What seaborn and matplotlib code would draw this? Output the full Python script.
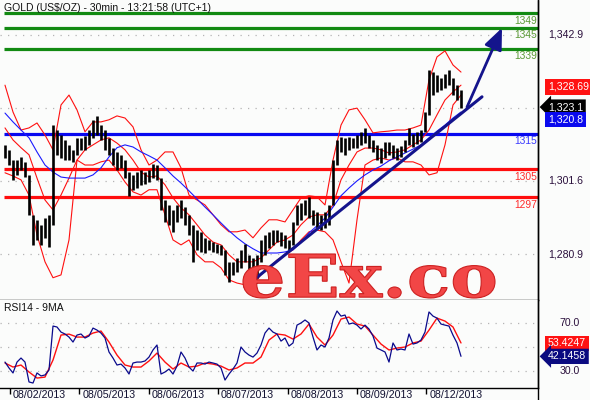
import numpy as np
import matplotlib.pyplot as plt
from matplotlib.lines import Line2D
from matplotlib.textpath import TextPath
from matplotlib.patches import PathPatch
from matplotlib.font_manager import FontProperties
from matplotlib.transforms import Affine2D
import seaborn as sns


# =========================
# DATA
# =========================

bar_high = [
    1311.8, 1310.4, 1307.5, 1307.5, 1308.4, 1307.0, 1303.3, 1292.0, 1290.6, 1289.2,
    1291.1, 1292.0, 1317.4, 1316.0, 1314.6, 1313.2, 1311.8, 1310.4, 1313.8, 1313.8,
    1314.3, 1316.0, 1318.9, 1320.0, 1317.4, 1316.0, 1313.8, 1311.0, 1309.8, 1309.0,
    1307.5, 1304.1, 1303.3, 1304.1, 1304.7, 1304.1, 1304.7, 1306.4, 1306.1, 1302.4,
    1296.2, 1294.8, 1293.4, 1294.8, 1296.2, 1294.2, 1292.0, 1289.2, 1287.7, 1287.2,
    1285.5, 1284.9, 1284.3, 1283.8, 1283.5, 1282.1, 1278.7, 1278.7, 1279.8, 1282.1,
    1283.8, 1280.7, 1279.8, 1280.7, 1284.9, 1286.3, 1287.2, 1287.7, 1287.7, 1287.2,
    1286.3, 1284.9, 1290.0, 1294.8, 1295.4, 1296.2, 1297.1, 1293.4, 1292.8, 1292.0,
    1292.8, 1294.8, 1307.5, 1313.2, 1314.0, 1313.8, 1314.0, 1313.8, 1314.6, 1315.5,
    1316.6, 1314.6, 1313.2, 1311.8, 1311.0, 1312.6, 1312.6, 1311.8, 1311.0, 1311.4,
    1313.2, 1316.6, 1314.8, 1315.5, 1316.0, 1321.1, 1333.0, 1332.4, 1331.6, 1330.7,
    1331.9, 1333.0, 1330.7, 1328.7, 1327.3,
]

bar_low = [
    1308.1, 1306.1, 1301.9, 1303.3, 1304.7, 1302.7, 1292.0, 1283.5, 1284.9, 1283.5,
    1285.5, 1282.9, 1289.2, 1309.0, 1308.1, 1307.5, 1307.5, 1307.0, 1309.0, 1310.4,
    1310.4, 1311.8, 1313.8, 1314.6, 1313.2, 1310.4, 1309.0, 1306.1, 1304.7, 1305.3,
    1302.4, 1297.4, 1299.1, 1299.6, 1300.5, 1300.7, 1301.3, 1302.4, 1301.9, 1293.4,
    1290.0, 1289.2, 1287.2, 1290.0, 1291.1, 1289.2, 1286.3, 1278.7, 1282.1, 1281.5,
    1281.2, 1282.1, 1281.5, 1281.2, 1280.7, 1275.0, 1273.0, 1275.0, 1275.9, 1277.0,
    1278.7, 1273.6, 1275.0, 1274.2, 1278.7, 1280.7, 1282.6, 1283.5, 1284.3, 1283.2,
    1282.6, 1282.1, 1283.5, 1289.2, 1290.6, 1292.0, 1291.1, 1289.2, 1288.3, 1287.7,
    1288.3, 1289.2, 1294.8, 1306.1, 1309.8, 1309.0, 1310.4, 1311.0, 1311.0, 1311.8,
    1312.4, 1311.0, 1309.8, 1307.5, 1306.7, 1308.1, 1309.0, 1308.1, 1307.5, 1308.4,
    1309.8, 1311.8, 1311.1, 1312.1, 1312.6, 1315.5, 1320.3, 1325.9, 1326.8, 1327.3,
    1327.9, 1328.8, 1325.9, 1324.5, 1322.2,
]

# bollinger bands and moving average, one value every second bar
band_upper = [
    1328.7, 1321.1, 1316.0, 1316.6, 1318.0, 1314.6, 1310.4, 1323.1, 1325.9, 1321.7,
    1315.5, 1318.3, 1318.3, 1318.9, 1320.0, 1319.4, 1316.9, 1310.4, 1306.1, 1307.5,
    1309.8, 1309.8, 1305.3, 1297.6, 1296.2, 1294.8, 1292.0, 1289.2, 1287.2, 1287.2,
    1287.7, 1285.5, 1288.3, 1290.6, 1290.6, 1290.0, 1293.4, 1296.8, 1297.4, 1297.1,
    1294.8, 1307.5, 1317.4, 1321.7, 1322.2, 1318.9, 1315.2, 1315.5, 1315.7, 1316.0,
    1316.0, 1316.6, 1317.4, 1330.2, 1336.7, 1338.4, 1334.4, 1332.4,
]

band_mid = [
    1316.6, 1313.2, 1311.0, 1309.0, 1302.4, 1296.2, 1293.4, 1297.6, 1302.4, 1307.5,
    1310.4, 1311.8, 1313.2, 1313.8, 1312.3, 1310.4, 1307.5, 1304.1, 1302.7, 1303.0,
    1300.5, 1296.8, 1294.0, 1292.0, 1289.2, 1286.3, 1284.3, 1283.5, 1280.7, 1278.7,
    1278.7, 1278.7, 1279.8, 1282.1, 1284.3, 1284.9, 1286.3, 1289.2, 1291.4, 1292.0,
    1292.0, 1294.8, 1301.9, 1306.1, 1309.8, 1310.9, 1310.9, 1310.4, 1309.5, 1309.8,
    1310.4, 1311.8, 1313.2, 1316.0, 1320.3, 1324.5, 1326.8, 1328.7,
]

band_lower = [
    1303.9, 1303.0, 1301.9, 1297.6, 1286.3, 1278.7, 1274.2, 1275.0, 1284.9, 1307.5,
    1306.1, 1306.1, 1307.0, 1307.5, 1304.7, 1301.3, 1298.5, 1297.6, 1299.1, 1299.1,
    1292.0, 1284.9, 1283.5, 1284.9, 1280.7, 1278.7, 1278.7, 1277.0, 1273.6, 1272.7,
    1272.2, 1272.2, 1275.0, 1277.0, 1279.2, 1280.7, 1282.1, 1284.9, 1287.2, 1287.7,
    1287.2, 1284.9, 1278.7, 1272.7, 1290.6, 1306.1, 1307.5, 1308.1, 1307.5, 1308.1,
    1307.0, 1307.0, 1306.1, 1303.3, 1303.9, 1311.8, 1323.1, 1325.9,
]

slow_ma = [
    1320.8, 1318.3, 1316.0, 1313.8, 1309.8, 1306.1, 1304.1, 1302.7, 1302.4, 1302.4,
    1302.4, 1303.3, 1305.3, 1308.4, 1311.0, 1311.8, 1311.2, 1309.8, 1308.7, 1307.5,
    1305.3, 1303.0, 1301.0, 1298.8, 1296.5, 1294.2, 1292.0, 1289.7, 1287.5, 1285.5,
    1283.8, 1282.4, 1281.2, 1281.2, 1281.2, 1281.5, 1282.1, 1284.1, 1286.9, 1288.9,
    1291.1, 1294.2, 1297.4, 1299.6, 1301.6, 1303.3, 1304.7, 1305.8, 1307.3, 1308.4,
    1309.5, 1310.6, 1311.8, 1313.8, 1315.7, 1317.4, 1319.4, 1321.1,
]

rsi = [
    37.3, 32.3, 28.1, 37.3, 40.7, 37.3, 20.5, 19.6, 28.1, 25.6,
    26.4, 30.6, 67.7, 66.9, 62.6, 61.0, 58.4, 54.2, 60.1, 61.0,
    57.6, 59.3, 66.0, 64.3, 61.8, 57.6, 45.8, 40.7, 34.8, 35.6,
    32.3, 27.2, 36.5, 37.3, 37.3, 38.2, 41.5, 47.5, 51.7, 27.2,
    28.9, 31.4, 27.2, 33.9, 45.8, 40.7, 33.1, 29.7, 36.5, 36.5,
    35.6, 37.3, 36.5, 35.6, 32.3, 22.1, 27.2, 31.4, 36.5, 50.0,
    45.8, 43.2, 41.5, 44.9, 51.7, 61.8, 66.0, 62.6, 61.0, 55.0,
    57.6, 50.8, 53.4, 68.5, 70.3, 72.8, 70.3, 58.4, 47.5, 51.7,
    50.0, 57.6, 72.8, 80.4, 76.1, 77.0, 69.4, 70.3, 68.5, 65.2,
    68.5, 65.2, 59.3, 49.1, 47.5, 45.8, 37.3, 53.4, 47.5, 48.3,
    47.5, 61.0, 52.5, 53.4, 55.9, 62.6, 79.6, 76.1, 74.4, 69.4,
    68.5, 67.7, 60.0, 53.4, 42.1458,
]

rsi_ma = [
    36.5, 33.1, 34.8, 28.9, 23.8, 24.6, 39.0, 60.1, 60.9, 58.4,
    58.4, 61.8, 63.5, 54.2, 43.2, 34.8, 33.1, 33.1, 38.2, 44.9,
    37.3, 31.4, 36.5, 33.1, 33.9, 36.5, 35.6, 33.9, 30.6, 32.3,
    36.5, 36.5, 41.5, 55.9, 61.0, 60.1, 56.7, 61.0, 69.4, 58.4,
    51.7, 60.1, 73.6, 75.3, 69.4, 67.7, 60.1, 52.5, 47.5, 49.1,
    50.0, 53.4, 55.0, 64.3, 74.4, 71.9, 66.9, 53.4247,
]

levels = [1349, 1345, 1339, 1315, 1305, 1297]
level_colors = ["#128a12", "#128a12", "#128a12", "#0808f0", "#ff0d0d", "#ff0d0d"]
level_text_colors = ["#5a9a35", "#5a9a35", "#5a9a35", "#3a3aff", "#ff2a2a", "#ff2a2a"]

price_grid = [1342.9, 1322.25, 1301.6, 1280.9]
price_grid_labels = ["1,342.9", "", "1,301.6", "1,280.9"]

day_labels = [
    "08/02/2013", "08/05/2013", "08/06/2013", "08/07/2013",
    "08/08/2013", "08/09/2013", "08/12/2013",
]

last_upper = 1328.69
last_close = 1323.1
last_ma = 1320.8

trend_start = (60.0, 1271.6)
trend_end = (119.25, 1325.4)
arrow_start = (115.5, 1322.5)
arrow_end = (124.25, 1344.9)


# =========================
# POSITIONS
# =========================

BARS_PER_DAY = 17.35
FIRST_DAY = 1.25

x_bars = np.arange(len(bar_high))
x_half = np.arange(len(band_upper)) * 2
day_pos = FIRST_DAY + BARS_PER_DAY * np.arange(len(day_labels))

X_MIN, X_MAX = -1.25, 133.25


# =========================
# STYLE
# =========================

sns.set_style("white")
plt.rcParams["font.family"] = ["Liberation Sans", "DejaVu Sans"]

BG = "#fbfcfb"
FS = 7.6

fig = plt.figure(figsize=(5.9, 4.0), dpi=100)
fig.patch.set_facecolor(BG)

W = 538 / 590
ax = fig.add_axes([0, 0.25, W, 0.75])
ax2 = fig.add_axes([0, 0.03, W, 0.22])

for a in (ax, ax2):
    a.set_facecolor(BG)
    a.set_xlim(X_MIN, X_MAX)
    for s in ("top", "left"):
        a.spines[s].set_visible(False)
    a.spines["right"].set_color("black")
    a.spines["bottom"].set_color("black")
    a.spines["right"].set_linewidth(1)
    a.spines["bottom"].set_linewidth(1)
    a.set_yticks([])
    a.set_xticks([])

ax.set_ylim(1267.9, 1352.8)
ax2.set_ylim(15.4, 89.7)


# =========================
# MAIN PANEL
# =========================

for v in price_grid:
    ax.axhline(v, color="#b4b4b4", lw=0.9, ls=(0, (1, 5)), zorder=1)

ax.hlines(levels, -0.25, X_MAX, colors=level_colors, lw=2.3, zorder=2)

for lv, c in zip(levels, level_text_colors):
    ax.text(X_MAX - 0.3, lv - 0.75, str(lv), ha="right", va="top",
            color=c, fontsize=7.4, zorder=3)

sns.lineplot(x=x_half, y=band_upper, ax=ax, color="#ff1010", lw=0.8, zorder=3)
sns.lineplot(x=x_half, y=band_mid, ax=ax, color="#ff1010", lw=0.8, zorder=3)
sns.lineplot(x=x_half, y=band_lower, ax=ax, color="#ff1010", lw=0.8, zorder=3)
sns.lineplot(x=x_half, y=slow_ma, ax=ax, color="#1a1aff", lw=0.8, zorder=3)

# price bars
ax.vlines(x_bars, bar_low, bar_high, color="black", lw=1.9, zorder=4)

ax.plot([trend_start[0], trend_end[0]], [trend_start[1], trend_end[1]],
        color="#14148c", lw=2.2, solid_capstyle="round", zorder=5)
ax.annotate(
    "", xy=arrow_end, xytext=arrow_start,
    arrowprops=dict(arrowstyle="-|>,head_length=1.3,head_width=0.55",
                    color="#14148c", lw=2.0, shrinkA=0, shrinkB=0),
    zorder=5,
)

# watermark, stretched to the reference's box (243..495 px wide, 44 px tall)
tp = TextPath((0, 0), "eEx.co", size=1,
              prop=FontProperties(family="DejaVu Serif", weight="bold"))
ext = tp.get_extents()
sx = (252 / 590) / ext.width
sy = (44 / 400) / ext.height
wm = Affine2D().translate(-ext.x0, -ext.y0).scale(sx, sy).translate(243 / 590, 1 - 298 / 400)
fig.add_artist(PathPatch(wm.transform_path(tp), transform=fig.transFigure,
                         fc="#f24646", ec="#cc2020", lw=0.8, zorder=8))

ytr = ax.get_yaxis_transform()
for v, lab in zip(price_grid, price_grid_labels):
    if lab:
        ax.text(1.0186, v, lab, transform=ytr, va="center", ha="left",
                fontsize=FS, color="#2a0f3c", clip_on=False)

ax.text(1.0186, 1328.2, f"{last_upper:,.2f}", transform=ytr, va="center",
        ha="left", fontsize=FS, color="white", clip_on=False,
        bbox=dict(boxstyle="square,pad=0.25", fc="#ff1212", ec="none"))
ax.text(1.0186, 1322.5, f"{last_close:,.1f}", transform=ytr, va="center",
        ha="left", fontsize=FS, color="white", clip_on=False,
        bbox=dict(boxstyle="larrow,pad=0.25", fc="black", ec="none"))
ax.text(1.0186, 1318.9, f"{last_ma:,.1f}", transform=ytr, va="center",
        ha="left", fontsize=FS, color="white", clip_on=False,
        bbox=dict(boxstyle="square,pad=0.25", fc="#0a0aee", ec="none"))


# =========================
# RSI PANEL
# =========================

for v in (70, 50, 30):
    ax2.axhline(v, color="#b4b4b4", lw=0.9, ls=(0, (1, 5)), zorder=1)

sns.lineplot(x=x_half, y=rsi_ma, ax=ax2, color="#ff1010", lw=1.0, zorder=3)
sns.lineplot(x=x_bars, y=rsi, ax=ax2, color="#0a0a8c", lw=0.9, zorder=4)

ytr2 = ax2.get_yaxis_transform()
for v in (70, 30):
    ax2.text(1.04, v, f"{v:.1f}", transform=ytr2, va="center", ha="left",
             fontsize=FS, color="#2a0f3c", clip_on=False)

ax2.text(1.0186, 53.0, f"{rsi_ma[-1]:.4f}", transform=ytr2, va="center",
         ha="left", fontsize=FS, color="white", clip_on=False,
         bbox=dict(boxstyle="square,pad=0.25", fc="#ff1212", ec="none"))
ax2.text(1.0186, 42.1, f"{rsi[-1]:.4f}", transform=ytr2, va="center",
         ha="left", fontsize=FS, color="white", clip_on=False,
         bbox=dict(boxstyle="larrow,pad=0.25", fc="#0a0a80", ec="none"))

ax2.set_xticks(day_pos)
ax2.tick_params(axis="x", bottom=True, direction="out", length=4,
                width=1, color="black", labelbottom=False)

xtr = ax2.get_xaxis_transform()
for d, lab in zip(day_pos, day_labels):
    ax2.text(d + 0.7, -0.08, lab, transform=xtr, ha="left", va="center",
             fontsize=7.7, color="#101030", clip_on=False)


# =========================
# TITLES AND FRAME
# =========================

fig.text(4 / 590, 1 - 8 / 400, "GOLD (US$/OZ) - 30min - 13:21:58 (UTC+1)",
         ha="left", va="center", fontsize=7.5, color="#101010")
fig.text(4 / 590, 1 - 308 / 400, "RSI14 - 9MA",
         ha="left", va="center", fontsize=7.5, color="#101010")

fig.add_artist(Line2D([W, W], [0, 1], color="black", lw=1,
                      transform=fig.transFigure))

fig.savefig("out.png", dpi=100, facecolor=BG)
